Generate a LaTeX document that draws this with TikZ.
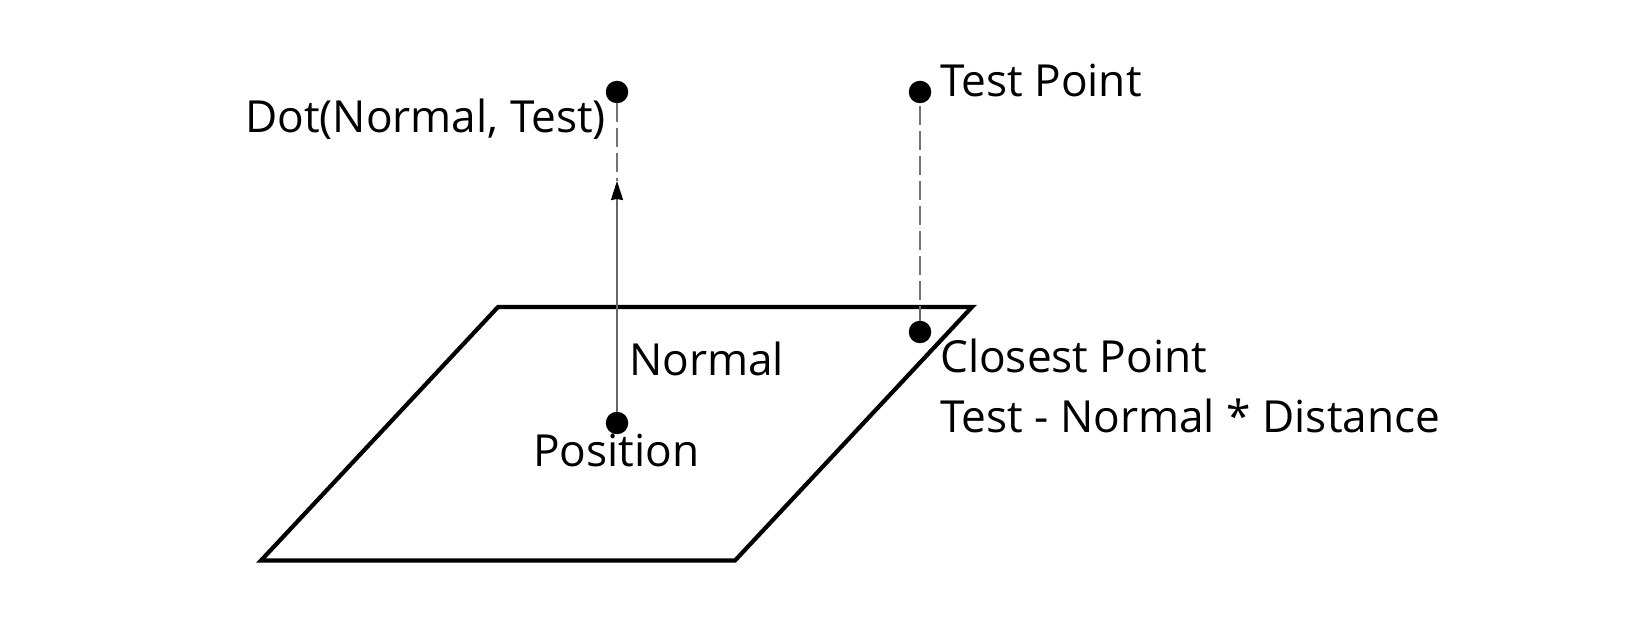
\documentclass[tikz,border=0pt]{standalone}
\usepackage{fontspec}
\setmainfont{Open Sans}
\usetikzlibrary{arrows.meta}
\tikzset{
  pt/.style={circle,fill=black,draw=none,inner sep=0pt,minimum size=22.5pt},
  lbl/.style={inner sep=0pt,anchor=base west,font=\fontsize{44.2}{44.2}\selectfont,text=black},
  guide/.style={draw=black!55,line width=1.6pt,dash pattern=on 19pt off 6pt},
  thin line/.style={draw=black!60,line width=1.6pt},
  plane/.style={draw=black,line width=4.2pt,line join=miter}
}
\begin{document}
\begin{tikzpicture}[x=1pt,y=-1pt]
\useasboundingbox[fill=white] (0,0) rectangle (1650,620);
\draw[plane] (498,307) -- (972,307) -- (735,560.5) -- (261,560.5) -- cycle;
\node[pt] (dotN) at (617,92) {};
\node[pt] (test) at (920,92) {};
\node[pt] (close) at (920,332) {};
\node[pt] (pos) at (617,423) {};
\coordinate (tip) at (617,181);
\coordinate (edge) at (920,307);
\draw[guide] (test.south) ++(0,3) -- (edge);
\draw[thin line] (edge) -- (close);
\draw[guide] (dotN.south) -- (tip);
\draw[thin line,-{Stealth[length=19pt,width=12pt,inset=1pt,color=black]}] (pos) -- (tip);
\node[lbl] (t1) at (940,97) {Test Point};
\node[lbl] (t2) at (245,133) {Dot(Normal, Test)};
\node[lbl] (t3) at (629,376) {Normal};
\node[lbl] (t4) at (533,466) {Position};
\node[lbl] (t5) at (940,373) {Closest Point};
\node[lbl] (t6) at (940,432) {Test - Normal * Distance};
\end{tikzpicture}
\end{document}
